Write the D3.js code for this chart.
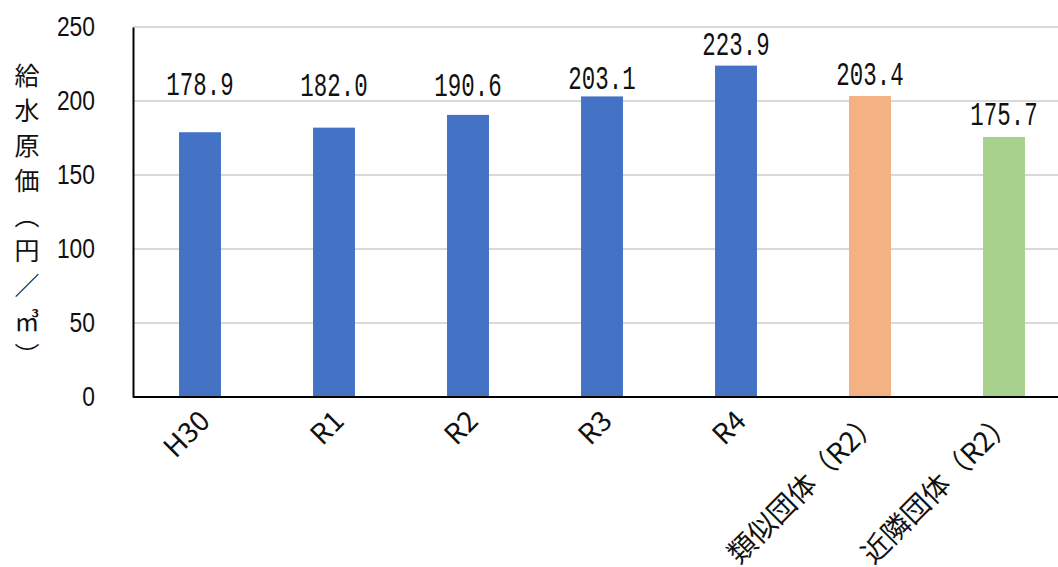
<!DOCTYPE html>
<html>
<head>
<meta charset="utf-8">
<script src="https://cdn.jsdelivr.net/npm/d3@7"></script>
<style>
  body { margin: 0; background: #fff; }
  svg { display: block; }
</style>
</head>
<body>
<div id="chart"></div>
<script>
var categories = ['H30', 'R1', 'R2', 'R3', 'R4', '類似団体（R2）', '近隣団体（R2）'];
var values = [178.9, 182.0, 190.6, 203.1, 223.9, 203.4, 175.7];
// 値ラベルの位置（軸の単位で、ラベルの下端）
var labelAt = [204.0, 203.4, 203.4, 208.1, 231.1, 211.1, 183.8];
var barColors = ['#4472C4', '#4472C4', '#4472C4', '#4472C4', '#4472C4', '#F4B183', '#A9D18E'];
var yTicks = [0, 50, 100, 150, 200, 250];
var yTitle = '給水原価（円／㎥）';

var width = 1058, height = 567;
var padding = { top: 27, left: 133, right: -13, bottom: 170 };

var svg = d3.select('#chart').append('svg')
    .attr('width', width)
    .attr('height', height);

var xScale = d3.scaleBand()
    .domain(categories)
    .range([padding.left, width - padding.right])
    .paddingInner(0.687)
    .paddingOuter(0.3435);

var yScale = d3.scaleLinear()
    .domain([0, 250])
    .range([height - padding.bottom, padding.top]);

// 網目線
svg.append('g')
    .selectAll('line')
    .data(yTicks.filter(d => d > 0))
    .join('line')
    .attr('x1', padding.left)
    .attr('x2', width)
    .attr('y1', d => yScale(d))
    .attr('y2', d => yScale(d))
    .attr('stroke', '#d9d9d9')
    .attr('stroke-width', 2);

// 棒
svg.append('g')
    .selectAll('rect')
    .data(values)
    .join('rect')
    .attr('x', (d, i) => xScale(categories[i]))
    .attr('y', d => yScale(d))
    .attr('width', xScale.bandwidth())
    .attr('height', d => yScale(0) - yScale(d))
    .attr('fill', (d, i) => barColors[i]);

// 値ラベル（縦長の数字に見せるため横だけ縮める）
svg.append('g')
    .selectAll('text')
    .data(values)
    .join('text')
    .attr('transform', (d, i) =>
        `translate(${xScale(categories[i]) + xScale.bandwidth() / 2},${yScale(labelAt[i])}) scale(0.68,1)`)
    .attr('text-anchor', 'middle')
    .style('font-family', 'Liberation Mono, monospace')
    .style('font-size', '33px')
    .attr('fill', '#111')
    .text(d => d.toFixed(1));

// y軸
var yAxis = d3.axisLeft(yScale).tickValues(yTicks).tickSize(0).tickPadding(38);
var gy = svg.append('g')
    .attr('transform', `translate(${padding.left},0)`)
    .call(yAxis);
gy.select('.domain').attr('stroke', '#000').attr('stroke-width', 2);
gy.selectAll('text')
    .style('font-family', 'Liberation Sans, Arial, sans-serif')
    .style('font-size', '28px')
    .attr('fill', '#111')
    .attr('textLength', d => String(d).length * 12.7)
    .attr('lengthAdjust', 'spacingAndGlyphs');

// x軸
var xAxis = d3.axisBottom(xScale).tickSize(0).tickPadding(0);
var gx = svg.append('g')
    .attr('transform', `translate(0,${yScale(0)})`)
    .call(xAxis);
gx.select('.domain').attr('stroke', '#000').attr('stroke-width', 2)
    .attr('d', `M${padding.left},0H${width}`);
gx.selectAll('.tick text')
    .attr('text-anchor', 'end')
    .attr('dy', '0.75em')
    .attr('transform', 'translate(-3,11) rotate(-45)')
    .style('font-family', 'Noto Sans CJK JP')
    .style('font-size', '28px')
    .attr('fill', '#111');

// y軸タイトル（縦書き）
svg.append('text')
    .attr('x', 27)
    .attr('y', 63)
    .style('writing-mode', 'vertical-rl')
    .style('font-family', 'Noto Sans CJK JP')
    .style('font-size', '25px')
    .style('letter-spacing', '10px')
    .attr('fill', '#111')
    .text(yTitle);
</script>
</body>
</html>
